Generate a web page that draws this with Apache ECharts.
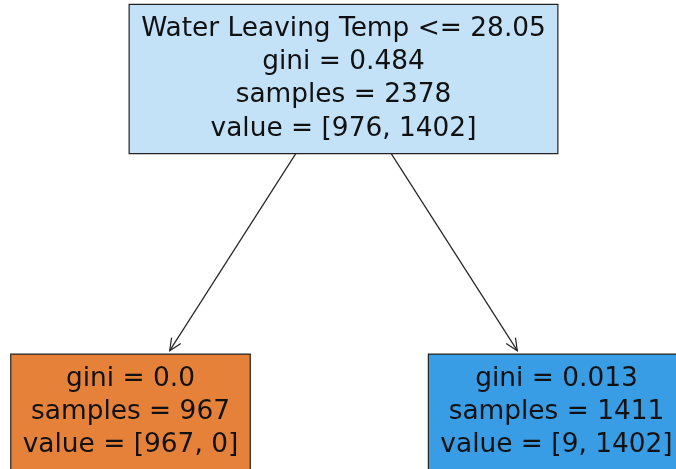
<!DOCTYPE html>
<html>
<head>
<meta charset="utf-8">
<script src="https://cdn.jsdelivr.net/npm/echarts@6/dist/echarts.min.js"></script>
<style>
  html, body { margin: 0; padding: 0; background: #fff; }
  #chart { width: 676px; height: 469px; }
</style>
</head>
<body>
<div id="chart"></div>
<script>
// tree nodes: horizontal slot and depth
var nodeX = [0, -1, 1];
var nodeDepth = [0, 1, 1];
var nodeText = [
  ['Water Leaving Temp <= 28.05', 'gini = 0.484', 'samples = 2378', 'value = [976, 1402]'],
  ['gini = 0.0', 'samples = 967', 'value = [967, 0]'],
  ['gini = 0.013', 'samples = 1411', 'value = [9, 1402]']
];
var nodeColors = ['#c3e1f7', '#e58139', '#399de5'];
// edges parent -> child
var edgeFrom = [0, 0];
var edgeTo = [1, 2];

var FONT = '26.4px "DejaVu Sans"';
var LINE_H = 33.3;
var PAD_X = 12, PAD_Y = 8;

var measureCtx = document.createElement('canvas').getContext('2d');
measureCtx.font = FONT;

// box size fitted to the text, like matplotlib's bbox
function boxSize(i) {
  var w = 0;
  nodeText[i].forEach(function (line) {
    w = Math.max(w, measureCtx.measureText(line).width);
  });
  return [w + PAD_X * 2, nodeText[i].length * LINE_H + PAD_Y * 2];
}

function renderNode(params, api) {
  var i = api.value(2);
  var p = api.coord([api.value(0), api.value(1)]);
  var b = boxSize(i);
  return {
    type: 'group',
    children: [{
      type: 'rect',
      shape: { x: p[0] - b[0] / 2, y: p[1] - b[1] / 2, width: b[0], height: b[1] },
      style: { fill: nodeColors[i], stroke: '#222', lineWidth: 1.2 }
    }, {
      type: 'text',
      x: p[0],
      y: p[1],
      style: {
        text: nodeText[i].join('\n'),
        font: FONT,
        lineHeight: LINE_H,
        align: 'center',
        verticalAlign: 'middle',
        fill: '#111'
      }
    }]
  };
}

function renderEdge(params, api) {
  var a = api.value(0), c = api.value(1);
  var s = api.coord([nodeX[a], nodeDepth[a]]);
  var e = api.coord([nodeX[c], nodeDepth[c]]);
  var dx = e[0] - s[0], dy = e[1] - s[1];
  var len = Math.sqrt(dx * dx + dy * dy);
  var ux = dx / len, uy = dy / len;
  var bs = boxSize(a), be = boxSize(c);
  // distance from centre to box edge along the line
  var ts = Math.min(bs[0] / 2 / Math.abs(dx || 1e-9), bs[1] / 2 / Math.abs(dy || 1e-9)) * len;
  var te = Math.min(be[0] / 2 / Math.abs(dx || 1e-9), be[1] / 2 / Math.abs(dy || 1e-9)) * len + 4;
  var x1 = s[0] + ux * ts, y1 = s[1] + uy * ts;
  var x2 = e[0] - ux * te, y2 = e[1] - uy * te;
  var hl = 12, hw = 5.5;
  var bx = x2 - ux * hl, by = y2 - uy * hl;
  var nx = -uy, ny = ux;
  return {
    type: 'group',
    children: [{
      type: 'line',
      shape: { x1: x1, y1: y1, x2: x2, y2: y2 },
      style: { stroke: '#222', lineWidth: 1.2 }
    }, {
      type: 'polyline',
      shape: { points: [[bx + nx * hw, by + ny * hw], [x2, y2], [bx - nx * hw, by - ny * hw]] },
      style: { stroke: '#222', lineWidth: 1.2, fill: null }
    }]
  };
}

var nodeData = nodeX.map(function (x, i) { return [x, nodeDepth[i], i]; });
var edgeData = edgeFrom.map(function (f, i) { return [f, edgeTo[i]]; });

var chart = echarts.init(document.getElementById('chart'), null, { renderer: 'canvas' });
chart.setOption({
  animation: false,
  backgroundColor: '#fff',
  grid: { left: 0, right: 0, top: 0, bottom: 0 },
  xAxis: { type: 'value', min: -1.6127, max: 1.5610, show: false },
  yAxis: { type: 'value', min: -0.2372, max: 1.1712, inverse: true, show: false },
  series: [{
    type: 'custom',
    renderItem: renderEdge,
    data: edgeData,
    encode: { x: -1, y: -1 },
    silent: true,
    z: 1
  }, {
    type: 'custom',
    renderItem: renderNode,
    data: nodeData,
    encode: { x: 0, y: 1 },
    silent: true,
    z: 2
  }]
});
</script>
</body>
</html>
